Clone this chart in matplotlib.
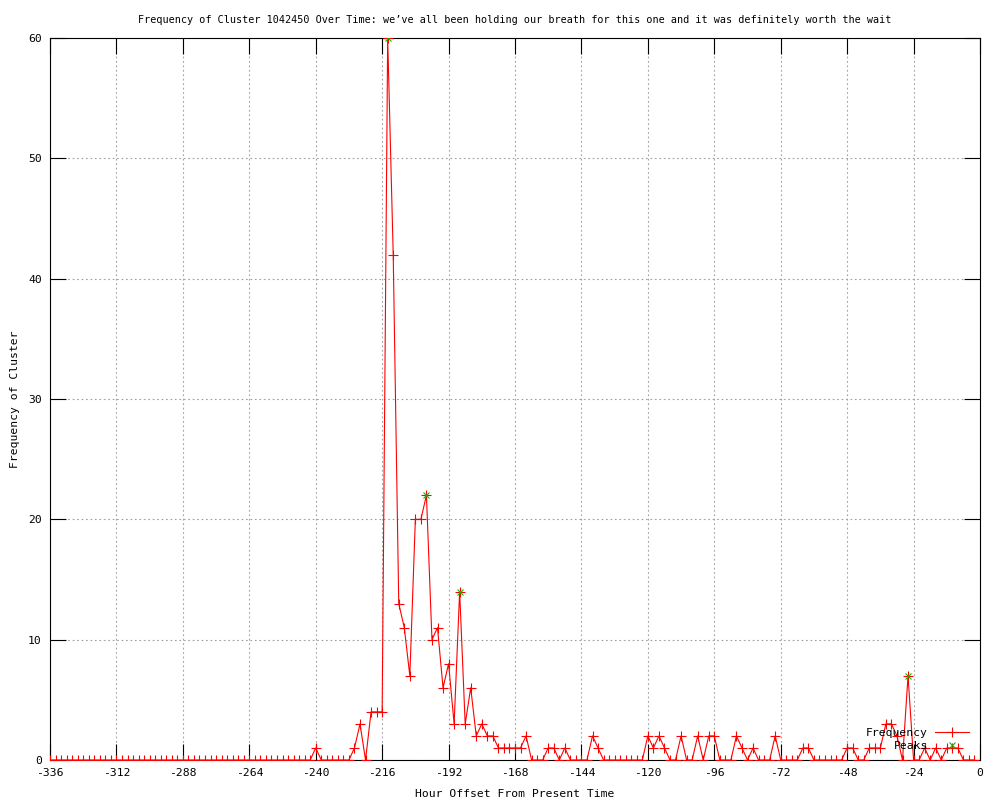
import matplotlib
matplotlib.use("Agg")
import matplotlib.pyplot as plt
import numpy as np

title = "Frequency of Cluster 1042450 Over Time: we\u2019ve all been holding our breath for this one and it was definitely worth the wait"
xlabel = "Hour Offset From Present Time"
ylabel = "Frequency of Cluster"

# hour offsets (every 2 hours)
hours = list(range(-336, -334 + 2 * 168, 2))
frequency = (
    [0] * 48 +                      # -336 .. -242
    [1] +                           # -240
    [0] * 6 +                       # -238 .. -228
    [1, 3, 0, 4, 4, 4, 60, 42, 13, 11, 7, 20, 20, 22, 10, 11, 6, 8, 3, 14,
     3, 6, 2, 3, 2, 2, 1, 1, 1, 1, 1, 2, 0, 0, 0, 1, 1, 0, 1, 0, 0, 0, 0,
     2, 1, 0, 0, 0, 0, 0, 0, 0, 0, 2, 1, 2, 1, 0, 0, 2, 0, 0, 2, 0, 2, 2,
     0, 0, 0, 2, 1, 0, 1, 0, 0, 0, 2, 0, 0, 0, 0, 1, 1, 0, 0, 0, 0, 0, 0,
     1, 1, 0, 0, 1, 1, 1, 3, 3, 2, 0, 7, 0, 0, 1, 0, 1, 0, 1, 1, 1, 0, 0, 0]
)
hours = hours[:len(frequency)]

peak_hours = [-214, -200, -188, -26]
peak_values = [60, 22, 14, 7]

xticks = list(range(-336, 1, 24))
yticks = list(range(0, 61, 10))

plt.rcParams['font.family'] = ['DejaVu Sans Mono']
fs = 8.2

fig = plt.figure(figsize=(10, 8), dpi=100)
ax = fig.add_axes([0.05, 0.05, 0.93, 0.9025])

ax.plot(hours, frequency, color='#ff0000', lw=0.8, marker='+', ms=7,
        mew=0.8, label='Frequency', zorder=3)
ax.plot(peak_hours, peak_values, ls='none', color='#00c000', marker='x',
        ms=5, mew=0.8, label='Peaks', zorder=4)

ax.set_xlim(-336, 0)
ax.set_ylim(0, 60)
ax.set_xticks(xticks)
ax.set_yticks(yticks)
ax.set_xticklabels([str(t) for t in xticks], fontsize=fs)
ax.set_yticklabels([str(t) for t in yticks], fontsize=fs)
ax.tick_params(direction='in', length=11.5, width=0.8, top=True, right=True,
               pad=6)
ax.grid(True, color='#a0a0a0', linestyle=(0, (1.5, 2.5)), linewidth=0.8)
ax.set_axisbelow(True)
for s in ax.spines.values():
    s.set_linewidth(0.8)

ax.set_title(title, fontsize=7.3, pad=11)
ax.set_xlabel(xlabel, fontsize=fs, labelpad=8)
ax.set_ylabel(ylabel, fontsize=fs, labelpad=6)

leg = ax.legend(loc='lower right', bbox_to_anchor=(0.9895, 0.011), frameon=False,
                markerfirst=False, fontsize=fs, handlelength=3.0,
                handletextpad=0.6, labelspacing=0.25, borderpad=0.1,
                borderaxespad=0)

fig.savefig('out.png', dpi=100)
